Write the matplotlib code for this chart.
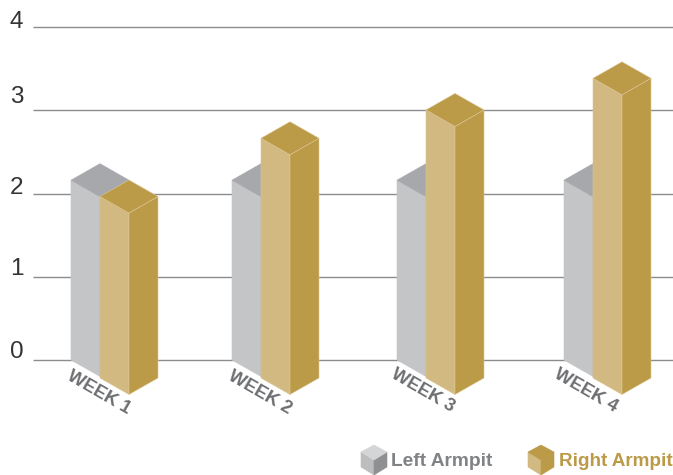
import matplotlib
matplotlib.use("Agg")
import matplotlib.pyplot as plt
from matplotlib.patches import Polygon

weeks = ["WEEK 1", "WEEK 2", "WEEK 3", "WEEK 4"]
left_armpit = [2.16, 2.16, 2.16, 2.16]
right_armpit = [2.18, 2.88, 3.22, 3.60]
y_ticks = [0, 1, 2, 3, 4]

# layout (pixels for x, value units for y)
bar_left_x = [71, 232, 397, 564]
label_xy = [(99, 393), (260, 393), (423, 391), (586, 391)]
tick_label_row = [352, 269, 188, 97, 22]
PX = 83.25            # pixels per value unit
Y0 = 360              # pixel row of value 0
HW = 29               # half-width of a bar's footprint in px
DY = 16.5 / PX        # isometric depth in value units
FRONT_SHIFT = 18 / PX # the right bar stands this far in front of the left one

plt.rcParams["font.family"] = ["Liberation Sans", "DejaVu Sans"]
fig = plt.figure(figsize=(6.73, 4.75), dpi=100)
ax = fig.add_axes([0, 0, 1, 1])
ax.set_xlim(0, 673)
ax.set_ylim((Y0 - 475) / PX, Y0 / PX)
ax.axis("off")

for t, row in zip(y_ticks, tick_label_row):
    ax.plot([33, 673], [t, t], color="#8c8c8e", lw=1.0, zorder=1, solid_capstyle="butt")
    ax.text(10, (Y0 - row) / PX, str(t), fontsize=17.5, color="#333335", ha="left", va="center")


def face(pts, color, edge=None, z=2):
    ax.add_patch(Polygon(pts, closed=True, facecolor=color,
                         edgecolor=edge if edge else color, lw=0.4, zorder=z,
                         joinstyle="miter"))


def bar(x, base, v, front, side, top, edge, z):
    bottom = base
    h = v + base
    face([(x, bottom), (x + HW, bottom - DY), (x + HW, h - DY), (x, h)], front, edge, z)
    face([(x + HW, bottom - DY), (x + 2 * HW, bottom), (x + 2 * HW, h), (x + HW, h - DY)], side, edge, z)
    face([(x, h), (x + HW, h - DY), (x + 2 * HW, h), (x + HW, h + DY)], top, edge, z)


for i, w in enumerate(weeks):
    x = bar_left_x[i]
    bar(x, 0, left_armpit[i], "#c4c5c7", "#a7a8ab", "#a7a8ab", None, 2 + i)
    bar(x + HW, -FRONT_SHIFT, right_armpit[i], "#d1b981", "#bb9a48", "#bb9a48", "#dcc793", 2.5 + i)
    lx, ly = label_xy[i]
    ax.text(lx, (Y0 - ly) / PX, w, rotation=-30, rotation_mode="anchor",
            ha="center", va="center", fontsize=13.2, fontweight="bold", color="#6d6e71")


def cube(cx, cy, front, side, top):
    hw, q = 13, 8
    to_v = lambda py: (Y0 - py) / PX
    face([(cx - hw, to_v(cy - q)), (cx, to_v(cy)), (cx, to_v(cy + 2 * q - 1)), (cx - hw, to_v(cy + q - 1))], front, None, 10)
    face([(cx, to_v(cy)), (cx + hw, to_v(cy - q)), (cx + hw, to_v(cy + q - 1)), (cx, to_v(cy + 2 * q - 1))], side, None, 10)
    face([(cx - hw, to_v(cy - q)), (cx, to_v(cy - 2 * q + 1)), (cx + hw, to_v(cy - q)), (cx, to_v(cy))], top, None, 10)


cube(374, 460, "#bcbdbf", "#8f9092", "#d4d5d7")
cube(541, 460, "#d1b981", "#bb9a48", "#bb9a48")
ax.text(391, (Y0 - 461) / PX, "Left Armpit", fontsize=13.8, fontweight="bold", color="#808285",
        ha="left", va="center")
ax.text(559, (Y0 - 461) / PX, "Right Armpit", fontsize=13.6, fontweight="bold", color="#bb9a48",
        ha="left", va="center")

fig.savefig("out.png", dpi=100)
